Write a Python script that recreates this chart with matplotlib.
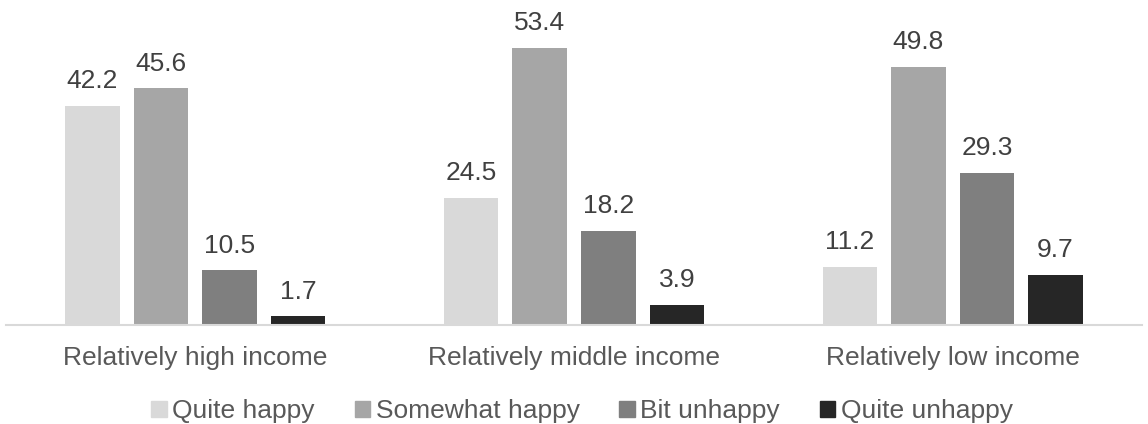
import matplotlib
matplotlib.use("Agg")
import matplotlib.pyplot as plt
import numpy as np
from matplotlib.patches import Patch

categories = ["Relatively high income", "Relatively middle income", "Relatively low income"]
series_names = ["Quite happy", "Somewhat happy", "Bit unhappy", "Quite unhappy"]
quite_happy = [42.2, 24.5, 11.2]
somewhat_happy = [45.6, 53.4, 49.8]
bit_unhappy = [10.5, 18.2, 29.3]
quite_unhappy = [1.7, 3.9, 9.7]
colors = ["#D9D9D9", "#A6A6A6", "#7F7F7F", "#262626"]

plt.rcParams['font.family'] = ['Liberation Sans', 'DejaVu Sans']
FS = 19

fig = plt.figure(figsize=(11.48, 4.24), dpi=100)
ax = fig.add_axes([0.0052, 0.2335, 0.9896, 0.7345])

x = np.arange(len(categories))
width = 0.144
step = 0.181
data = [quite_happy, somewhat_happy, bit_unhappy, quite_unhappy]
for i, (vals, c) in enumerate(zip(data, colors)):
    pos = x + (i - 1.5) * step
    bars = ax.bar(pos, vals, width, color=c, label=series_names[i])
    for b, v in zip(bars, vals):
        ax.annotate(f"{v:.1f}", (b.get_x() + b.get_width() / 2, v),
                    xytext=(0, 9), textcoords="offset points",
                    ha="center", va="bottom", fontsize=FS, color="#404040")

ax.set_xlim(-0.5, 2.5)
ax.set_ylim(0, 60)
for s in ["top", "right", "left"]:
    ax.spines[s].set_visible(False)
ax.spines["bottom"].set_color("#D9D9D9")
ax.spines["bottom"].set_linewidth(1.5)
ax.set_yticks([])
ax.set_xticks(x)
ax.set_xticklabels(categories, fontsize=FS, color="#595959")
ax.tick_params(axis="x", length=0, pad=15)

handles = [Patch(color=c) for c in colors]
fig.legend(handles, series_names, loc="center", bbox_to_anchor=(0.507, 0.03),
           ncol=4, frameon=False, fontsize=FS, handlelength=0.6, handleheight=0.6,
           handletextpad=0.2, columnspacing=1.5, labelcolor="#595959")

fig.savefig("out.png", dpi=100)
